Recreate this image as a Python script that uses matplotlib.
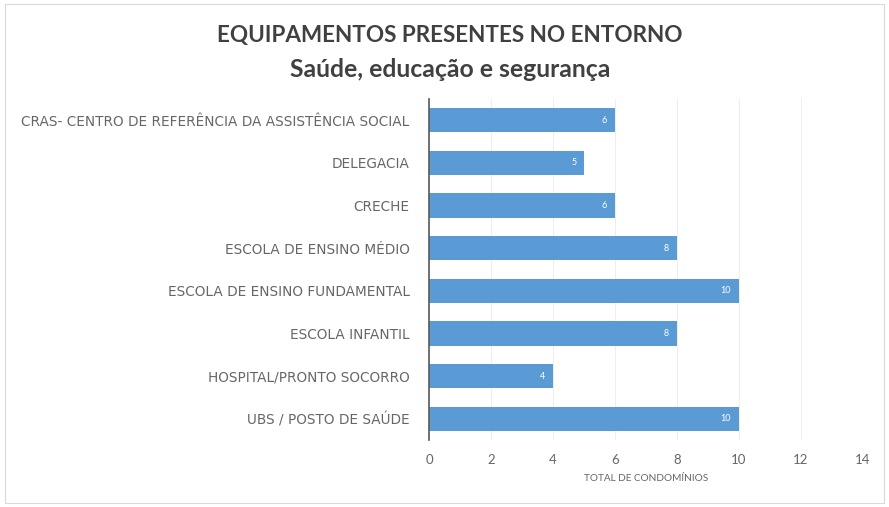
import matplotlib
matplotlib.use("Agg")
import matplotlib.pyplot as plt
from matplotlib.patches import Rectangle

plt.rcParams["font.family"] = ["Lato", "DejaVu Sans"]

categories = [
    "CRAS- CENTRO DE REFERÊNCIA DA ASSISTÊNCIA SOCIAL",
    "DELEGACIA",
    "CRECHE",
    "ESCOLA DE ENSINO MÉDIO",
    "ESCOLA DE ENSINO FUNDAMENTAL",
    "ESCOLA INFANTIL",
    "HOSPITAL/PRONTO SOCORRO",
    "UBS / POSTO DE SAÚDE",
]
totals = [6, 5, 6, 8, 10, 8, 4, 10]
x_ticks = [0, 2, 4, 6, 8, 10, 12, 14]

BAR = "#5b9bd5"
TEXT = "#666666"

fig = plt.figure(figsize=(8.89, 5.07), dpi=100)
fig.patches.append(Rectangle((0.006, 0.008), 0.988, 0.985, transform=fig.transFigure,
                             fill=False, edgecolor="#d9d9d9", linewidth=0.8))

ax = fig.add_axes([0.4826, 0.132, 0.488, 0.673])
ypos = list(range(len(categories)))
bars = ax.barh(ypos, totals, height=0.57, color=BAR, zorder=2)
for rect, v in zip(bars, totals):
    ax.text(rect.get_width() - 0.25, rect.get_y() + rect.get_height() / 2, str(v),
            ha="right", va="center", color="white", fontsize=6.5, zorder=3)

ax.set_ylim(len(categories) - 0.5, -0.5)
ax.set_xlim(0, 14)
ax.set_xticks(x_ticks)
ax.set_yticks(ypos)
ax.set_yticklabels(categories, fontsize=9.8, color=TEXT, family="DejaVu Sans")
ax.tick_params(axis="x", labelsize=9.5, colors=TEXT, length=0, pad=10)
ax.tick_params(axis="y", length=0, pad=14)
ax.grid(axis="x", color="#eeeeee", linewidth=0.8, zorder=0)
for side in ("top", "right", "bottom"):
    ax.spines[side].set_visible(False)
ax.spines["left"].set_color("#595959")
ax.spines["left"].set_linewidth(1.2)
ax.set_xlabel("TOTAL DE CONDOMÍNIOS", fontsize=7.2, color=TEXT, labelpad=6)

fig.text(0.506, 0.93, "EQUIPAMENTOS PRESENTES NO ENTORNO", ha="center", va="center",
         fontsize=16.2, color="#404040", fontweight="bold")
fig.text(0.506, 0.862, "Saúde, educação e segurança", ha="center", va="center",
         fontsize=17.8, color="#404040", fontweight="bold")

fig.savefig("out.png", dpi=100, facecolor="white")
